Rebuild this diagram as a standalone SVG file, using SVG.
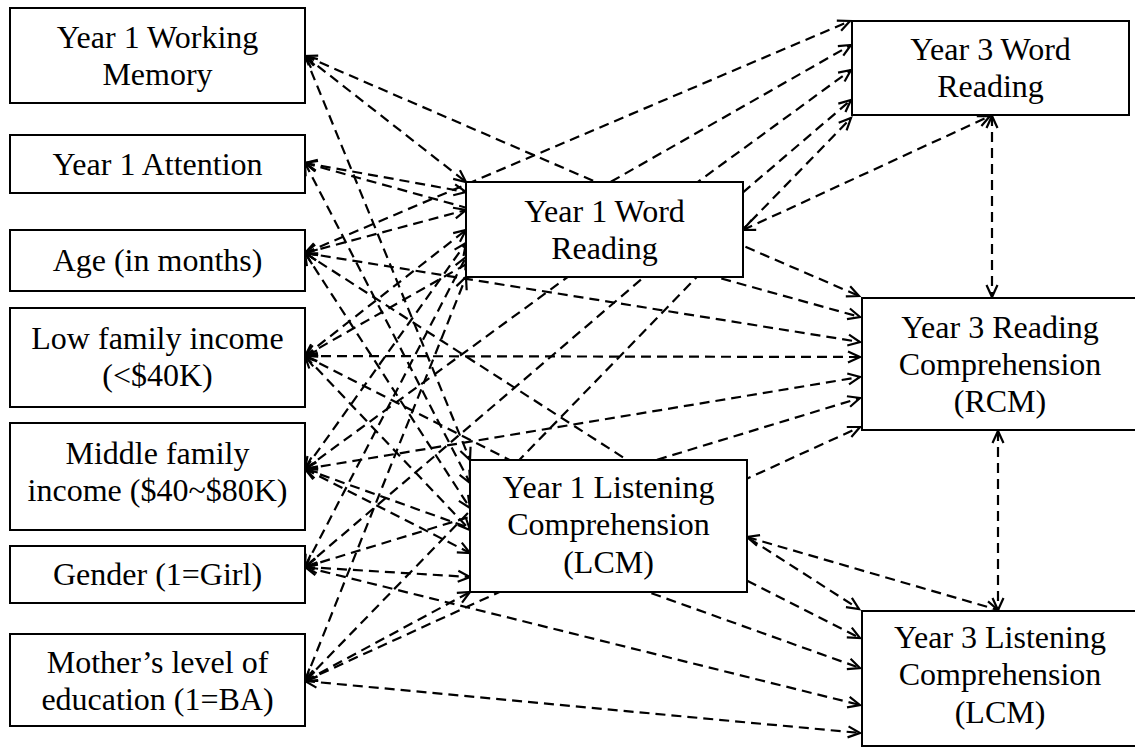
<svg xmlns="http://www.w3.org/2000/svg" width="1135" height="747" viewBox="0 0 1135 747">
<style>
.box{fill:#fff;stroke:#000;stroke-width:2}
.t{font-family:"Liberation Serif","Times New Roman",serif;font-size:32px;fill:#000;text-anchor:middle}
.c line{stroke:#000;stroke-width:2.2;stroke-dasharray:10 6;fill:none;marker-start:url(#ah);marker-end:url(#ah)}
</style>
<defs>
<marker id="ah" markerUnits="userSpaceOnUse" viewBox="-14 -8 16 16" refX="0" refY="0" markerWidth="16" markerHeight="16" orient="auto-start-reverse" overflow="visible">
<path d="M-12,-5.5 L0,0 L-12,5.5" fill="none" stroke="#000" stroke-width="2.2"/>
</marker>
</defs>
<rect width="1135" height="747" fill="#fff"/>
<g id="connectors" class="c">
<line x1="305" y1="56" x2="466" y2="182"/>
<line x1="305" y1="56" x2="470" y2="460"/>
<line x1="305" y1="56" x2="859" y2="296"/>
<line x1="305" y1="163" x2="466" y2="192"/>
<line x1="305" y1="163" x2="470" y2="483"/>
<line x1="305" y1="163" x2="860" y2="317"/>
<line x1="305" y1="253" x2="466" y2="210"/>
<line x1="305" y1="253" x2="470" y2="508"/>
<line x1="305" y1="253" x2="850" y2="21"/>
<line x1="305" y1="253" x2="860" y2="342"/>
<line x1="305" y1="253" x2="859" y2="609"/>
<line x1="305" y1="356" x2="466" y2="230"/>
<line x1="305" y1="356" x2="470" y2="530"/>
<line x1="305" y1="356" x2="851" y2="45"/>
<line x1="305" y1="356" x2="860" y2="357"/>
<line x1="305" y1="356" x2="860" y2="638"/>
<line x1="305" y1="469" x2="466" y2="243"/>
<line x1="305" y1="469" x2="470" y2="553"/>
<line x1="305" y1="469" x2="851" y2="70"/>
<line x1="305" y1="469" x2="860" y2="377"/>
<line x1="305" y1="469" x2="860" y2="668"/>
<line x1="305" y1="567" x2="466" y2="257"/>
<line x1="305" y1="567" x2="470" y2="577"/>
<line x1="305" y1="567" x2="851" y2="100"/>
<line x1="305" y1="567" x2="860" y2="398"/>
<line x1="305" y1="567" x2="860" y2="705"/>
<line x1="305" y1="681" x2="466" y2="277"/>
<line x1="305" y1="681" x2="470" y2="592"/>
<line x1="305" y1="681" x2="851" y2="118"/>
<line x1="305" y1="681" x2="860" y2="427"/>
<line x1="305" y1="681" x2="860" y2="733"/>
<line x1="743" y1="230" x2="990" y2="116"/>
<line x1="747" y1="537" x2="998" y2="610"/>
<line x1="992" y1="116" x2="992" y2="297"/>
<line x1="998" y1="431" x2="998" y2="610"/>
</g>
<g id="wm"><rect class="box" x="10" y="8" width="295" height="95"/><text class="t" x="157.5" y="48">Year 1 Working</text><text class="t" x="157.5" y="85">Memory</text></g>
<g id="att"><rect class="box" x="10" y="135" width="295" height="58"/><text class="t" x="157.5" y="175">Year 1 Attention</text></g>
<g id="age"><rect class="box" x="10" y="230" width="295" height="61"/><text class="t" x="157.5" y="271">Age (in months)</text></g>
<g id="low"><rect class="box" x="10" y="308" width="295" height="99"/><text class="t" x="157.5" y="349">Low family income</text><text class="t" x="157.5" y="386">(&lt;$40K)</text></g>
<g id="mid"><rect class="box" x="10" y="423" width="295" height="107"/><text class="t" x="157.5" y="464">Middle family</text><text class="t" x="157.5" y="501">income ($40~$80K)</text></g>
<g id="gender"><rect class="box" x="10" y="546" width="295" height="57"/><text class="t" x="157.5" y="585">Gender (1=Girl)</text></g>
<g id="mother"><rect class="box" x="10" y="634" width="295" height="92"/><text class="t" x="157.5" y="673">Mother’s level of</text><text class="t" x="157.5" y="710">education (1=BA)</text></g>
<g id="y1wr"><rect class="box" x="466" y="182" width="277" height="95"/><text class="t" x="604.5" y="222">Year 1 Word</text><text class="t" x="604.5" y="259">Reading</text></g>
<g id="y1lcm"><rect class="box" x="470" y="460" width="277" height="132"/><text class="t" x="608.5" y="498">Year 1 Listening</text><text class="t" x="608.5" y="535">Comprehension</text><text class="t" x="608.5" y="573">(LCM)</text></g>
<g id="y3wr"><rect class="box" x="852" y="21" width="277" height="94"/><text class="t" x="990.5" y="60">Year 3 Word</text><text class="t" x="990.5" y="97">Reading</text></g>
<g id="y3rcm"><rect class="box" x="862" y="298" width="277" height="132"/><text class="t" x="1000" y="338">Year 3 Reading</text><text class="t" x="1000" y="375">Comprehension</text><text class="t" x="1000" y="412">(RCM)</text></g>
<g id="y3lcm"><rect class="box" x="862" y="611" width="277" height="135"/><text class="t" x="1000" y="648">Year 3 Listening</text><text class="t" x="1000" y="685">Comprehension</text><text class="t" x="1000" y="723">(LCM)</text></g>
</svg>
